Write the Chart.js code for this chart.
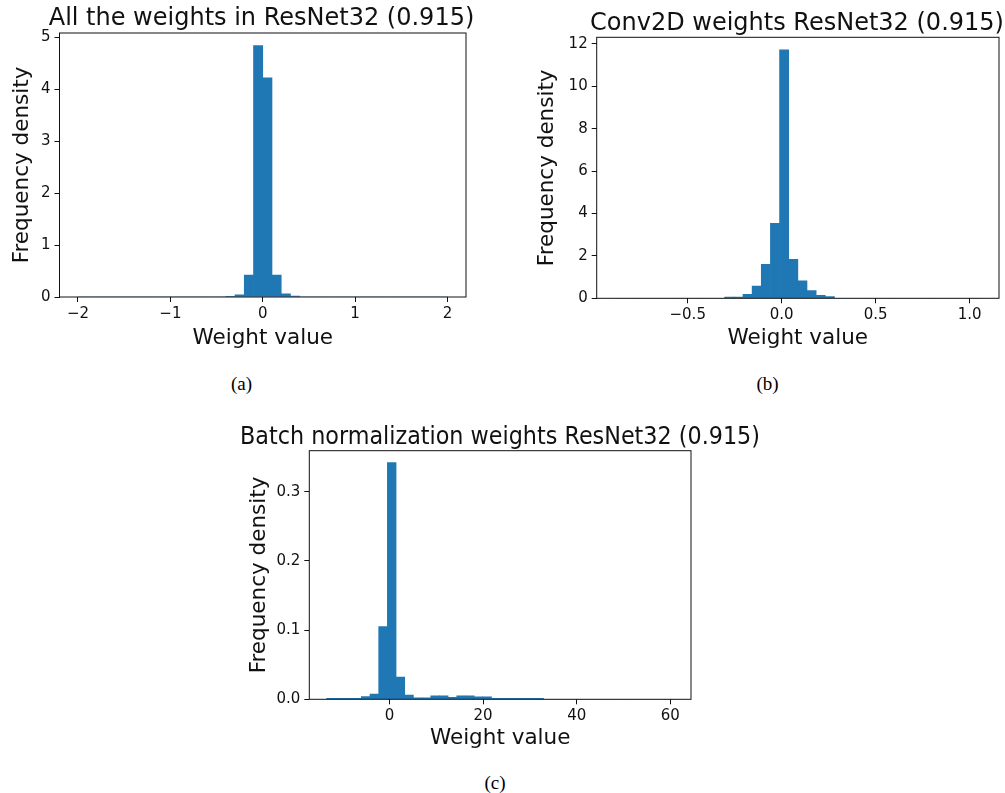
<!DOCTYPE html>
<html>
<head>
<meta charset="utf-8">
<script src="https://cdn.jsdelivr.net/npm/chart.js@4.4.0/dist/chart.umd.min.js"></script>
<style>
  html, body { margin: 0; padding: 0; background: #fff; overflow: hidden; }
  body { width: 1005px; height: 793px; position: relative; }
  canvas { position: absolute; }
  .cap {
    position: absolute;
    font-family: "Liberation Serif", "Times New Roman", serif;
    font-size: 19px;
    color: #000;
    transform: translate(-50%, -50%);
  }
</style>
</head>
<body>
<canvas id="histA" width="523" height="360" style="left:0px;top:0px"></canvas>
<canvas id="histB" width="534" height="360" style="left:530px;top:0px"></canvas>
<canvas id="histC" width="520" height="360" style="left:240px;top:400px"></canvas>
<div class="cap" style="left:241.5px;top:383.5px">(a)</div>
<div class="cap" style="left:767.5px;top:383.5px">(b)</div>
<div class="cap" style="left:495px;top:782.5px">(c)</div>

<script>
// ======================================
// DATA (40 bins each)
// ======================================
const titleA = "All the weights in ResNet32 (0.915)";
const rangeA = [-2, 2];
const densityA = [
    0, 0, 0, 0, 0, 0, 0, 0, 0, 0,
    0, 0, 0, 0, 0, 0, 0.015, 0.04, 0.42, 4.84,
    4.22, 0.42, 0.06, 0.02, 0, 0, 0, 0, 0, 0,
    0, 0, 0, 0, 0, 0, 0, 0, 0, 0
];
const xTicksA = [-2, -1, 0, 1, 2];
const xTickLabelsA = ["\u22122", "\u22121", "0", "1", "2"];
const yTicksA = [0, 1, 2, 3, 4, 5];
const yTickLabelsA = ["0", "1", "2", "3", "4", "5"];

const titleB = "Conv2D weights ResNet32 (0.915)";
const rangeB = [-0.887, 1.059];
const densityB = [
    0, 0, 0, 0, 0, 0, 0, 0, 0, 0,
    0, 0, 0.06, 0.06, 0.19, 0.58, 1.6, 3.53, 11.72, 1.84,
    0.82, 0.36, 0.14, 0.08, 0, 0, 0, 0, 0, 0,
    0, 0, 0, 0, 0, 0, 0, 0, 0, 0
];
const xTicksB = [-0.5, 0, 0.5, 1.0];
const xTickLabelsB = ["\u22120.5", "0.0", "0.5", "1.0"];
const yTicksB = [0, 2, 4, 6, 8, 10, 12];
const yTickLabelsB = ["0", "2", "4", "6", "8", "10", "12"];

const titleC = "Batch normalization weights ResNet32 (0.915)";
const rangeC = [-13.4, 60.7];
const densityC = [
    0.0015, 0.0015, 0.0015, 0.0015, 0.004, 0.0075, 0.105, 0.342, 0.032, 0.006,
    0.002, 0.002, 0.005, 0.005, 0.003, 0.005, 0.005, 0.0035, 0.0035, 0.0015,
    0.0015, 0.0015, 0.0015, 0.0015, 0.0015, 0, 0, 0, 0, 0,
    0, 0, 0, 0, 0, 0, 0, 0, 0, 0
];
const xTicksC = [0, 20, 40, 60];
const xTickLabelsC = ["0", "20", "40", "60"];
const yTicksC = [0, 0.1, 0.2, 0.3];
const yTickLabelsC = ["0.0", "0.1", "0.2", "0.3"];

const xLabel = "Weight value";
const yLabel = "Frequency density";


// ======================================
// STYLE
// ======================================
const ink = "#111";
const family = "DejaVu Sans";
const barColor = "#1f77b4";

// box around the plot area (matplotlib spines)
const frame = {
    id: "frame",
    afterDatasetsDraw(chart) {
        const { ctx, chartArea: a } = chart;
        ctx.save();
        ctx.strokeStyle = ink;
        ctx.lineWidth = 1;
        ctx.strokeRect(a.left, a.top, a.right - a.left, a.bottom - a.top);
        ctx.restore();
    }
};


// ======================================
// HISTOGRAM
// ======================================
function drawHist(id, d, box) {
    const span = d.range[1] - d.range[0];
    const w = span / d.values.length;
    const points = d.values.map((v, i) => ({ x: d.range[0] + w * (i + 0.5), y: v }));
    const yMax = Math.max(...d.values) * 1.05;

    new Chart(document.getElementById(id), {
        type: "bar",
        data: {
            datasets: [{
                data: points,
                xAxisID: "x",
                yAxisID: "y",
                backgroundColor: barColor,
                borderWidth: 0,
                barPercentage: 1,
                categoryPercentage: 1
            }]
        },
        options: {
            responsive: false,
            animation: false,
            layout: { padding: 0 },
            plugins: {
                legend: { display: false },
                tooltip: { enabled: false },
                title: {
                    display: true,
                    text: d.title,
                    color: ink,
                    font: { family, size: 24, weight: "normal", lineHeight: 1.1 },
                    padding: { top: box.titleTop, bottom: box.titleBottom }
                }
            },
            scales: {
                x: {
                    type: "linear",
                    offset: false,
                    min: d.range[0] - 0.05 * span,
                    max: d.range[1] + 0.05 * span,
                    grid: { offset: false, drawOnChartArea: false, tickLength: 5, tickColor: ink, tickWidth: 1 },
                    border: { display: false },
                    afterBuildTicks: s => { s.ticks = d.xTicks.map(v => ({ value: v })); },
                    ticks: {
                        autoSkip: false, maxRotation: 0, padding: 3, color: ink,
                        font: { family, size: 15 },
                        callback: (v, i) => d.xTickLabels[i]
                    },
                    title: {
                        display: true, text: xLabel, color: ink,
                        font: { family, size: 21.5 },
                        padding: { top: 0, bottom: box.xTitleBottom }
                    },
                    afterFit: s => { s.height = box.xAxisH; }
                },
                y: {
                    type: "linear",
                    position: "left",
                    min: 0,
                    max: yMax,
                    grid: { drawOnChartArea: false, tickLength: 5, tickColor: ink, tickWidth: 1 },
                    border: { display: false },
                    afterBuildTicks: s => { s.ticks = d.yTicks.map(v => ({ value: v })); },
                    ticks: {
                        autoSkip: false, padding: 4, color: ink,
                        font: { family, size: 15 },
                        callback: (v, i) => d.yTickLabels[i]
                    },
                    title: {
                        display: true, text: yLabel, color: ink,
                        font: { family, size: 21.5 },
                        padding: { top: box.yTitleTop, bottom: 0 }
                    },
                    afterFit: s => { s.width = box.yAxisW; }
                },
                // empty right-hand axis so the title centres over the plot
                yR: {
                    type: "linear",
                    position: "right",
                    display: true,
                    grid: { display: false },
                    border: { display: false },
                    ticks: { display: false },
                    afterFit: s => { s.width = box.rightW; }
                }
            }
        },
        plugins: [frame]
    });
}

drawHist("histA",
    { title: titleA, range: rangeA, values: densityA, xTicks: xTicksA, xTickLabels: xTickLabelsA, yTicks: yTicksA, yTickLabels: yTickLabelsA },
    { titleTop: 6.0, titleBottom: 0.6, yAxisW: 59.5, rightW: 57, xAxisH: 63, xTitleBottom: 8.2, yTitleTop: 10.0 });

drawHist("histB",
    { title: titleB, range: rangeB, values: densityB, xTicks: xTicksB, xTickLabels: xTickLabelsB, yTicks: yTicksB, yTickLabels: yTickLabelsB },
    { titleTop: 10.7, titleBottom: 0.2, yAxisW: 66.7, rightW: 65, xAxisH: 61.7, xTitleBottom: 8.2, yTitleTop: 5.0 });

drawHist("histC",
    { title: titleC, range: rangeC, values: densityC, xTicks: xTicksC, xTickLabels: xTickLabelsC, yTicks: yTicksC, yTickLabels: yTickLabelsC },
    { titleTop: 24.3, titleBottom: 0, yAxisW: 69.3, rightW: 69, xAxisH: 60.7, xTitleBottom: 8.2, yTitleTop: 7.0 });
</script>
</body>
</html>
